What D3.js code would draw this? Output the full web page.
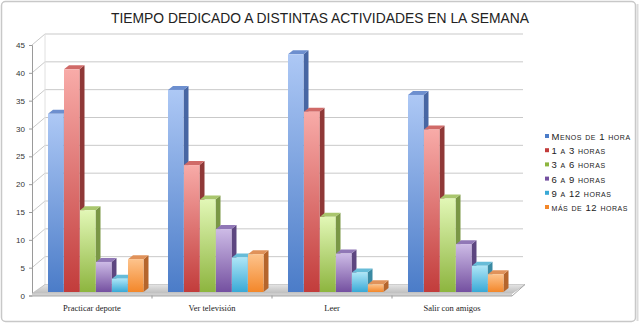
<!DOCTYPE html>
<html>
<head>
<meta charset="utf-8">
<script src="https://cdn.jsdelivr.net/npm/d3@7"></script>
<style>
  body { margin: 0; background: #fff; }
  svg { display: block; }
</style>
</head>
<body>
<div id="chart"></div>
<script>
const title = "TIEMPO DEDICADO A DISTINTAS ACTIVIDADES EN LA SEMANA";
const categories = ["Practicar deporte", "Ver televisión", "Leer", "Salir con amigos"];
const series = ["Menos de 1 hora", "1 a 3 horas", "3 a 6 horas", "6 a 9 horas", "9 a 12 horas", "más de 12 horas"];
// one array per series, values per category
const menos1 = [32, 36.3, 42.7, 35.4];
const de1a3 = [40, 22.8, 32.4, 29.2];
const de3a6 = [14.7, 16.6, 13.5, 16.8];
const de6a9 = [5.4, 11.3, 6.9, 8.6];
const de9a12 = [2.4, 6.2, 3.5, 4.7];
const mas12 = [5.9, 6.8, 1.4, 3.2];
const yTicks = [0, 5, 10, 15, 20, 25, 30, 35, 40, 45];

const values = [menos1, de1a3, de3a6, de6a9, de9a12, mas12];
// front / top / side colours per series
const faceTop = ["#adc8f5", "#f8aba8", "#e2f7b6", "#cdbbe6", "#aee6f7", "#fdc38c"];
const faceBot = ["#4b7cc8", "#c23c3b", "#8db53f", "#7450a0", "#39a9d6", "#f3872a"];
const sideCol = ["#4766a3", "#8f3837", "#7a9745", "#5d4680", "#3a8aa3", "#b5652c"];
const topCol  = ["#6d8fcf", "#d06a68", "#a9c66d", "#9077b6", "#67bcd8", "#e0925a"];

const W = 640, H = 324;
const svg = d3.select("#chart").append("svg").attr("width", W).attr("height", H)
  .style("font-family", "'Liberation Sans', Arial, sans-serif");

const defs = svg.append("defs");
series.forEach((s, i) => {
  const g = defs.append("linearGradient").attr("id", "g" + i)
    .attr("x1", 0).attr("y1", 0).attr("x2", 0).attr("y2", 1);
  g.append("stop").attr("offset", "0%").attr("stop-color", faceTop[i]);
  g.append("stop").attr("offset", "100%").attr("stop-color", faceBot[i]);
});
const fg = defs.append("linearGradient").attr("id", "floor").attr("x1", 0).attr("y1", 0).attr("x2", 0).attr("y2", 1);
fg.append("stop").attr("offset", "0%").attr("stop-color", "#e4e4e4");
fg.append("stop").attr("offset", "100%").attr("stop-color", "#bdbdbd");

// outer frame
svg.append("rect").attr("x", 1.5).attr("y", 1.5).attr("width", 634).attr("height", 320)
  .attr("rx", 4).attr("fill", "#fff").attr("stroke", "#c8c8c8").attr("stroke-width", 1.5);
svg.append("line").attr("x1", 637.5).attr("x2", 637.5).attr("y1", 4).attr("y2", 321)
  .attr("stroke", "#dcdcdc").attr("stroke-width", 2);

svg.append("text").attr("x", 320).attr("y", 23).attr("text-anchor", "middle")
  .attr("font-size", 15).attr("textLength", 418).attr("lengthAdjust", "spacingAndGlyphs")
  .attr("fill", "#222").text(title);

// geometry
const x0 = 32, x1 = 512;
const frontBase = 295.5;
const wallDx = 13, wallDy = -11;
const barBase = 292;
const depthDx = 5, depthDy = -4;

const y = d3.scaleLinear().domain([0, 45]).range([0, 250.5]);
const x = d3.scaleBand().domain(categories).range([x0, x1]);
const xs = d3.scaleBand().domain(series).range([16, 112]);

const grid = svg.append("g").attr("stroke", "#c9c9c9").attr("fill", "none");
yTicks.forEach(t => {
  const yf = frontBase - y(t), yb = yf + wallDy;
  if (t > 0) grid.append("line").attr("x1", x0 + wallDx).attr("x2", x1 + wallDx - 2)
    .attr("y1", yb).attr("y2", yb);
  grid.append("line").attr("x1", x0).attr("y1", yf).attr("x2", x0 + wallDx).attr("y2", yb);
});
grid.append("line").attr("x1", x0 + wallDx).attr("x2", x0 + wallDx)
  .attr("y1", frontBase + wallDy).attr("y2", frontBase - y(45) + wallDy).attr("stroke", "#e0e0e0");

// y axis via d3 axis
const yAxisScale = d3.scaleLinear().domain([0, 45]).range([frontBase, frontBase - y(45)]);
const yAxis = svg.append("g").attr("transform", `translate(${x0},0)`)
  .call(d3.axisLeft(yAxisScale).tickValues(yTicks).tickSize(3).tickPadding(4));
yAxis.select(".domain").attr("stroke", "#9a9a9a");
yAxis.selectAll(".tick line").attr("stroke", "#9a9a9a");
yAxis.selectAll("text").attr("font-size", 8).attr("fill", "#333")
  .style("font-family", "'Liberation Sans', Arial, sans-serif");

// floor
svg.append("path").attr("fill", "url(#floor)").attr("stroke", "#b5b5b5").attr("stroke-width", 0.6)
  .attr("d", `M${x0},${frontBase - 2}L${x0 + wallDx},${frontBase + wallDy}L${x1 + wallDx},${frontBase + wallDy}L${x1},${frontBase - 2}Z`);
svg.append("rect").attr("x", x0).attr("y", frontBase - 2).attr("width", x1 - x0).attr("height", 2.5)
  .attr("fill", "#cfcfcf");
svg.append("line").attr("x1", x0).attr("x2", x1).attr("y1", frontBase + 0.5).attr("y2", frontBase + 0.5)
  .attr("stroke", "#a8a8a8");
svg.append("line").attr("x1", x1).attr("y1", frontBase + 0.5).attr("x2", x1 + wallDx).attr("y2", frontBase + wallDy)
  .attr("stroke", "#a8a8a8");

// category ticks
categories.forEach((c, i) => {
  if (i === 0) return;
  svg.append("line").attr("x1", x(c)).attr("x2", x(c)).attr("y1", frontBase).attr("y2", frontBase + 3)
    .attr("stroke", "#9a9a9a");
});

// bars
const bars = svg.append("g");
categories.forEach((c, ci) => {
  series.forEach((s, si) => {
    const v = values[si][ci];
    const bx = x(c) + xs(s), bw = xs.bandwidth() - 0.5;
    const by = barBase - y(v);
    const g = bars.append("g");
    g.append("path").attr("fill", sideCol[si])
      .attr("d", `M${bx + bw},${barBase}L${bx + bw},${by}L${bx + bw + depthDx},${by + depthDy}L${bx + bw + depthDx},${barBase + depthDy}Z`);
    g.append("path").attr("fill", topCol[si])
      .attr("d", `M${bx},${by}L${bx + depthDx},${by + depthDy}L${bx + bw + depthDx},${by + depthDy}L${bx + bw},${by}Z`);
    g.append("rect").attr("x", bx).attr("y", by).attr("width", bw).attr("height", y(v))
      .attr("fill", `url(#g${si})`);
  });
});

// category labels
svg.append("g").selectAll("text").data(categories).join("text")
  .attr("x", d => x(d) + x.bandwidth() / 2).attr("y", 311)
  .attr("text-anchor", "middle").attr("font-size", 8.5).attr("fill", "#222")
  .style("font-family", "'Liberation Serif', 'DejaVu Serif', serif")
  .text(d => d);

// legend
const lg = svg.append("g").attr("transform", "translate(545,140)");
series.forEach((s, i) => {
  const r = lg.append("g").attr("transform", `translate(0,${i * 14.2})`);
  r.append("rect").attr("x", 0).attr("y", -6).attr("width", 4).attr("height", 4).attr("fill", faceBot[i]);
  r.append("text").attr("x", 6.5).attr("y", 0).attr("font-size", 9.5)
    .style("font-variant", "small-caps").style("letter-spacing", "0.55px")
    .attr("fill", "#222").text(s);
});
</script>
</body>
</html>
